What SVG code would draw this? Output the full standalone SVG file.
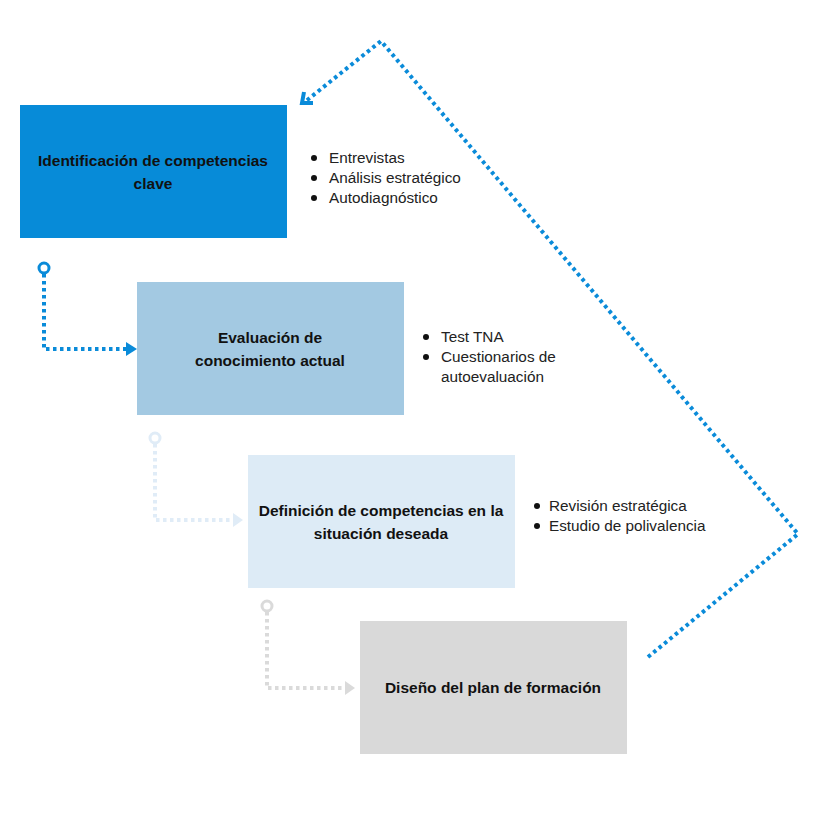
<svg xmlns="http://www.w3.org/2000/svg" width="820" height="820" viewBox="0 0 820 820">
<style>
.t{font-family:"Liberation Sans",Arial,sans-serif;font-size:15.5px;font-weight:bold;fill:#111;text-anchor:middle}
.b{font-family:"Liberation Sans",Arial,sans-serif;font-size:15.3px;fill:#222}
.d{fill:#111}
.c{fill:none;stroke-width:4;stroke-dasharray:3.5 3.5}
</style>
<rect width="820" height="820" fill="#fff"/>
<g id="connectors">
<g stroke="#0a8bd9" fill="none">
<circle cx="44" cy="268" r="5" stroke-width="3"/>
<path class="c" d="M44 274 V349 H128" stroke="#0a8bd9"/>
</g>
<path d="M126 342 L137 349 L126 356 Z" fill="#0a8bd9"/>
<g stroke="#e0ecf7" fill="none">
<circle cx="155" cy="438" r="5" stroke-width="3"/>
<path class="c" d="M155 444 V520 H234" stroke="#e0ecf7"/>
</g>
<path d="M233 513 L243 520 L233 527 Z" fill="#e0ecf7"/>
<g stroke="#dadada" fill="none">
<circle cx="267" cy="606" r="5" stroke-width="3"/>
<path class="c" d="M267 612 V688 H346" stroke="#dadada"/>
</g>
<path d="M345 681 L355 688 L345 695 Z" fill="#dadada"/>
<path class="c" d="M648 657 L798 534 L381 41 L306 101" stroke="#0a8bd9"/>
<path d="M304 92 L302 103 L313 103" fill="none" stroke="#0a8bd9" stroke-width="4"/>
</g>
<g id="node1">
<rect x="20" y="105" width="267" height="133" fill="#078bd8"/>
<text class="t" x="153" y="166">Identificación de competencias</text>
<text class="t" x="153" y="189">clave</text>
</g>
<g id="list1">
<circle class="d" cx="314" cy="158" r="3"/><text class="b" x="329" y="163">Entrevistas</text>
<circle class="d" cx="314" cy="178" r="3"/><text class="b" x="329" y="183">Análisis estratégico</text>
<circle class="d" cx="314" cy="198" r="3"/><text class="b" x="329" y="203">Autodiagnóstico</text>
</g>
<g id="node2">
<rect x="137" y="282" width="267" height="133" fill="#a3c9e2"/>
<text class="t" x="270" y="343">Evaluación de</text>
<text class="t" x="270" y="366">conocimiento actual</text>
</g>
<g id="list2">
<circle class="d" cx="426" cy="337" r="3"/><text class="b" x="441" y="342">Test TNA</text>
<circle class="d" cx="426" cy="357" r="3"/><text class="b" x="441" y="362">Cuestionarios de</text>
<text class="b" x="441" y="382">autoevaluación</text>
</g>
<g id="node3">
<rect x="248" y="455" width="267" height="133" fill="#ddebf6"/>
<text class="t" x="381" y="516">Definición de competencias en la</text>
<text class="t" x="381" y="539">situación deseada</text>
</g>
<g id="list3">
<circle class="d" cx="537" cy="506" r="3"/><text class="b" x="549" y="511">Revisión estratégica</text>
<circle class="d" cx="537" cy="526" r="3"/><text class="b" x="549" y="531">Estudio de polivalencia</text>
</g>
<g id="node4">
<rect x="360" y="621" width="267" height="133" fill="#d9d9d9"/>
<text class="t" x="493" y="693">Diseño del plan de formación</text>
</g>
</svg>
